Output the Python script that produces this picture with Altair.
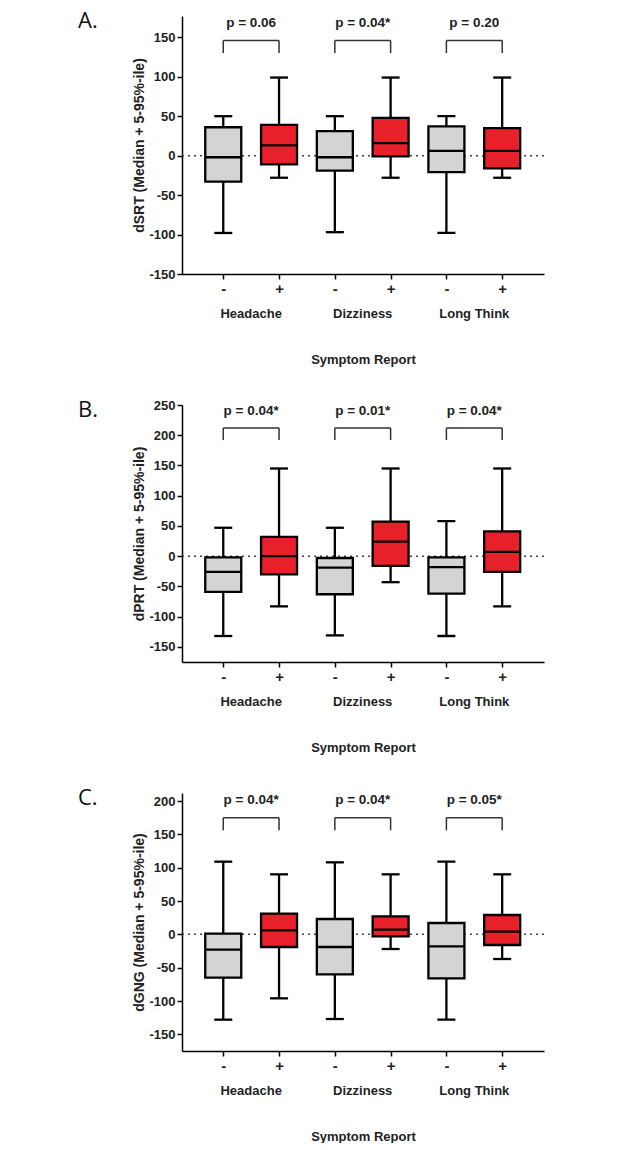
import altair as alt
import pandas as pd

symptoms = ["Headache", "Dizziness", "Long Think"]
reports = ["-", "+"]

# Panel A: dSRT
a_low = [-98, -28, -97, -28, -98, -28]
a_q1 = [-33, -11, -19, -1, -21, -16]
a_med = [-2, 13, -2, 16, 6, 6]
a_q3 = [36, 39, 31, 48, 37, 35]
a_high = [50, 99, 50, 99, 50, 99]
a_p = ["p = 0.06", "p = 0.04*", "p = 0.20"]

# Panel B: dPRT
b_low = [-132, -83, -131, -43, -132, -83]
b_q1 = [-59, -30, -63, -16, -62, -26]
b_med = [-26, 0, -19, 24, -18, 7]
b_q3 = [-2, 32, -3, 57, -2, 41]
b_high = [47, 145, 47, 145, 58, 145]
b_p = ["p = 0.04*", "p = 0.01*", "p = 0.04*"]

# Panel C: dGNG
c_low = [-128, -96, -127, -22, -128, -37]
c_q1 = [-65, -19, -60, -3, -66, -16]
c_med = [-23, 6, -19, 7, -18, 4]
c_q3 = [1, 31, 23, 27, 17, 29]
c_high = [109, 90, 108, 90, 109, 90]
c_p = ["p = 0.04*", "p = 0.04*", "p = 0.05*"]

GRAY = "#d4d4d4"
RED = "#e8202a"
FONT = "Liberation Sans"
W = 362
LW = 2.3


def panel(letter, ytitle, low, q1, med, q3, high, pvals, ydom, yticks,
          br_low, br_top, p_y, height):
    rows = []
    for i, s in enumerate(symptoms):
        for j, r in enumerate(reports):
            k = 2 * i + j
            rows.append({"symptom": s, "report": r, "pos": k + 1,
                         "low": low[k], "q1": q1[k], "med": med[k],
                         "q3": q3[k], "high": high[k],
                         "br_low": br_low, "br_top": br_top})
    df = pd.DataFrame(rows)
    br = pd.DataFrame({
        "symptom": symptoms,
        "x1": [2 * i + 1 for i in range(3)],
        "x2": [2 * i + 2 for i in range(3)],
        "xm": [2 * i + 1.5 for i in range(3)],
        "top": [br_top] * 3,
        "py": [p_y] * 3,
        "p": pvals,
    })

    xscale = alt.Scale(domain=[0.35, 6.66], nice=False, zero=False)
    yscale = alt.Scale(domain=ydom, nice=False, zero=False)
    xaxis = alt.Axis(values=[1, 2, 3, 4, 5, 6],
                     labelExpr="datum.value % 2 == 1 ? '-' : '+'",
                     title="Symptom Report", grid=False, labelFontSize=15,
                     titlePadding=57, labelPadding=2, titleFontSize=13)
    yaxis = alt.Axis(values=yticks, title=ytitle, grid=False, titlePadding=2,
                     labelExpr="'' + datum.value", titleFontSize=14)

    def X(f):
        return alt.X(f, type="quantitative", scale=xscale, axis=xaxis)

    def Y(f):
        return alt.Y(f, type="quantitative", scale=yscale, axis=yaxis)

    base = alt.Chart(df)
    zero = alt.Chart(pd.DataFrame({"zero": [0]})).mark_rule(
        color="#444", strokeDash=[2, 4], strokeWidth=1.5
    ).encode(y=Y("zero"))
    whisk = base.mark_rule(color="black", strokeWidth=LW).encode(
        x=X("pos"), y=Y("low"), y2="high")
    cap_lo = base.mark_tick(orient="horizontal", size=18, thickness=LW,
                            color="black", opacity=1).encode(x=X("pos"), y=Y("low"))
    cap_hi = base.mark_tick(orient="horizontal", size=18, thickness=LW,
                            color="black", opacity=1).encode(x=X("pos"), y=Y("high"))
    box = base.mark_bar(size=36, stroke="black", strokeWidth=LW, opacity=1).encode(
        x=X("pos"), y=Y("q1"), y2="q3",
        color=alt.Color("report:N", scale=alt.Scale(domain=reports, range=[GRAY, RED]),
                        legend=None))
    median = base.mark_tick(orient="horizontal", size=36, thickness=LW,
                            color="black", opacity=1).encode(x=X("pos"), y=Y("med"))
    br_v = base.mark_rule(color="#333", strokeWidth=1.5).encode(
        x=X("pos"), y=Y("br_low"), y2="br_top")
    br_h = alt.Chart(br).mark_rule(color="#333", strokeWidth=1.5).encode(
        x=X("x1"), x2="x2", y=Y("top"))
    ptext = alt.Chart(br).mark_text(font=FONT, fontWeight="bold", fontSize=13.5,
                                    color="#222").encode(
        x=X("xm"), y=Y("py"), text="p:N")
    cat = alt.Chart(br).mark_text(font=FONT, fontWeight="bold", fontSize=13,
                                  color="#222", baseline="middle").encode(
        x=X("xm"), y=alt.value(height + 40), text="symptom:N")
    lab = alt.Chart(pd.DataFrame({"t": [letter]})).mark_text(
        font="Open Sans", fontSize=22, align="left", baseline="top",
        color="#111").encode(x=alt.value(-104), y=alt.value(-5), text="t:N")

    return alt.layer(zero, whisk, cap_lo, cap_hi, box, median, br_v, br_h,
                     ptext, cat, lab).properties(width=W, height=height)


pA = panel("A.", "dSRT (Median + 5-95%-ile)", a_low, a_q1, a_med, a_q3, a_high,
           a_p, [-150, 177], [-150, -100, -50, 0, 50, 100, 150], 130, 146, 168, 258)
pB = panel("B.", "dPRT (Median + 5-95%-ile)", b_low, b_q1, b_med, b_q3, b_high,
           b_p, [-175, 250], [-150, -100, -50, 0, 50, 100, 150, 200, 250],
           192, 212, 240, 257)
pC = panel("C.", "dGNG (Median + 5-95%-ile)", c_low, c_q1, c_med, c_q3, c_high,
           c_p, [-175, 212], [-150, -100, -50, 0, 50, 100, 150, 200],
           156, 175, 202, 258)

chart = alt.vconcat(pA, pB, pC, spacing=33).properties(
    padding={"left": 70, "top": 2, "right": 5, "bottom": 0}
).configure_view(stroke=None).configure_axis(
    labelFont=FONT, labelFontWeight="bold", labelFontSize=13, labelColor="#222",
    titleFont=FONT, titleFontWeight="bold", titleColor="#222",
    domainColor="black", domainWidth=1.5, tickColor="black", tickWidth=1.5,
    tickSize=5
)

chart.save("out.html", embed_options={"renderer": "svg", "actions": False})
